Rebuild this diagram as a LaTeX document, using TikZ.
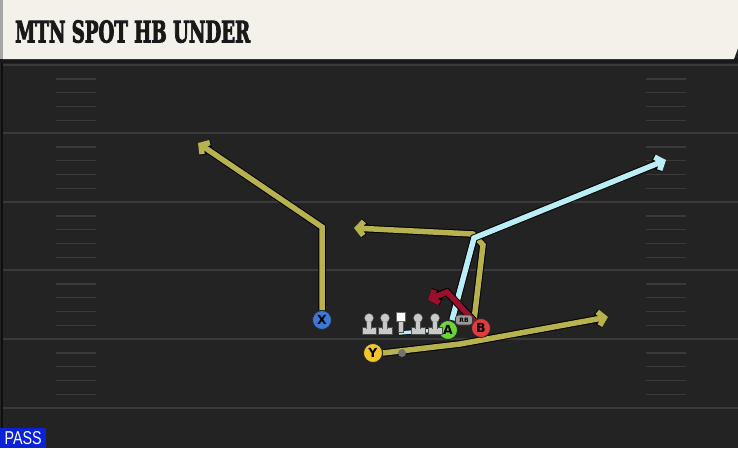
\documentclass[tikz,border=0pt]{standalone}
\usepackage{fontspec}
\setmainfont{DejaVu Sans}
\newfontfamily\titlefont{DejaVu Serif Condensed}[FakeBold=3.5]
\newfontfamily\passfont{Liberation Sans}
\usetikzlibrary{arrows.meta}
\definecolor{fieldbg}{HTML}{232323}
\definecolor{headbg}{HTML}{F4F1EA}
\definecolor{yardln}{HTML}{3A3A3A}
\definecolor{olive}{HTML}{B7B24E}
\definecolor{lblue}{HTML}{B9EEF6}
\definecolor{dred}{HTML}{9B0F2D}
\definecolor{pblue}{HTML}{3C78D8}
\definecolor{pyellow}{HTML}{F2C62A}
\definecolor{pgreen}{HTML}{6CD33A}
\definecolor{pred}{HTML}{E23B3F}
\definecolor{lineman}{HTML}{C9C9C9}
\definecolor{passblue}{HTML}{0B22D6}
\pgfdeclarelayer{bg}
\pgfdeclarelayer{routes}
\pgfsetlayers{bg,routes,main}
\tikzset{
  route/.style={line width=5.5pt, line join=miter, draw=#1,
    -{Straight Barb[length=6pt,width=14pt]},
    preaction={draw=black, line width=7.5pt, line join=miter}},
  player/.style={circle, fill=#1, draw=black!85, line width=0.8pt,
    minimum size=19pt, inner sep=0pt, font=\bfseries\fontsize{12.5}{12.5}\selectfont},
  yard/.style={draw=yardln, line width=2pt},
  hash/.style={draw=yardln, line width=1.6pt},
}
\begin{document}
\begin{tikzpicture}[x=1pt,y=-1pt]
\useasboundingbox (0,0) rectangle (738,448);
\begin{pgfonlayer}{bg}
  % field
  \fill[fieldbg] (0,0) rectangle (738,448);
  \draw[draw=black!60!fieldbg, line width=1.2pt] (2,62) -- (2,448);
  % yard lines
  \foreach \yy in {65,133,202,270,339,408}{
    \draw[yard] (3,\yy) -- (738,\yy);
  }
  % hash marks
  \foreach \s in {65,133,202,270,339}{
    \foreach \o in {14,27.5,41.5,55.5}{
      \draw[hash] (56,\s+\o) -- (96,\s+\o);
      \draw[hash] (646,\s+\o) -- (686,\s+\o);
    }
  }
  % header
  \fill[black!90] (0,58) rectangle (738,63);
  \fill[headbg] (3,0) -- (738,0) -- (738,48) -- (734,59) -- (3,59) -- cycle;
  \fill[black!35] (0,0) rectangle (3,59);
\end{pgfonlayer}

\node[anchor=south west, inner sep=0pt, text=black!90] (title) at (15,43)
  {\resizebox{235pt}{22pt}{\titlefont\bfseries MTN SPOT HB UNDER}};

\node[fill=passblue, anchor=south west, minimum width=46pt, minimum height=20pt,
  inner sep=0pt, text=white] (pass) at (0,448)
  {\resizebox{37pt}{13pt}{\passfont PASS}};

% players
\node[player=pblue] (X) at (322,320) {X};
\node[player=pyellow] (Y) at (373,353) {Y};
\node[player=pgreen] (A) at (448,330) {A};
\node[player=pred] (B) at (481,328) {B};
\node[fill=black!40, draw=black!80, line width=0.6pt, rounded corners=3pt,
  minimum width=17pt, minimum height=10pt, inner sep=0pt,
  font=\bfseries\fontsize{6}{6}\selectfont] (RB) at (464,320) {RB};
\node[circle, fill=black!55, minimum size=8pt, inner sep=0pt] (QB) at (402,353) {};

% linemen
\foreach \lx/\nm in {369/LT,385/LG,418/RG,435/RT}{
  \fill[lineman, draw=black!70, line width=0.4pt] (\lx-7,327) rectangle (\lx+7,334);
  \fill[lineman, draw=black!70, line width=0.4pt] (\lx-2.5,320) rectangle (\lx+2.5,328);
  \node[circle, fill=lineman, draw=black!60, line width=0.3pt, minimum size=9pt, inner sep=0pt] (\nm) at (\lx,318) {};
  \fill[lineman] (\lx-2,322) rectangle (\lx+2,330);
}
\fill[lineman, draw=black!70, line width=0.4pt] (398.5,321) rectangle (403.5,332);
\node[fill=white, draw=black!60, line width=0.4pt, minimum size=9pt, inner sep=0pt] (C) at (401,317) {};
\coordinate (Cb) at (399,333);

% routes
\begin{pgfonlayer}{routes}
  \draw[draw=black, line width=5pt] (Cb) -- (A.west);
  \draw[draw=lblue, line width=3.5pt] (Cb) -- (A.west);
  \draw[route=olive] (RB.south east) ++(1,-3) -- (483,245) -- (473,234) -- (354,228);
  \draw[route=olive] (X.north) -- (322,227) -- (198,143);
  \draw[route=lblue] (A.north) ++(4,0) -- (474,238) -- (666,160);
  \draw[route=dred] (B.north west) -- (447,292) -- (428,300);
  \draw[route=olive] (Y.east) -- (460,344) -- (608,317);
\end{pgfonlayer}
\end{tikzpicture}
\end{document}
